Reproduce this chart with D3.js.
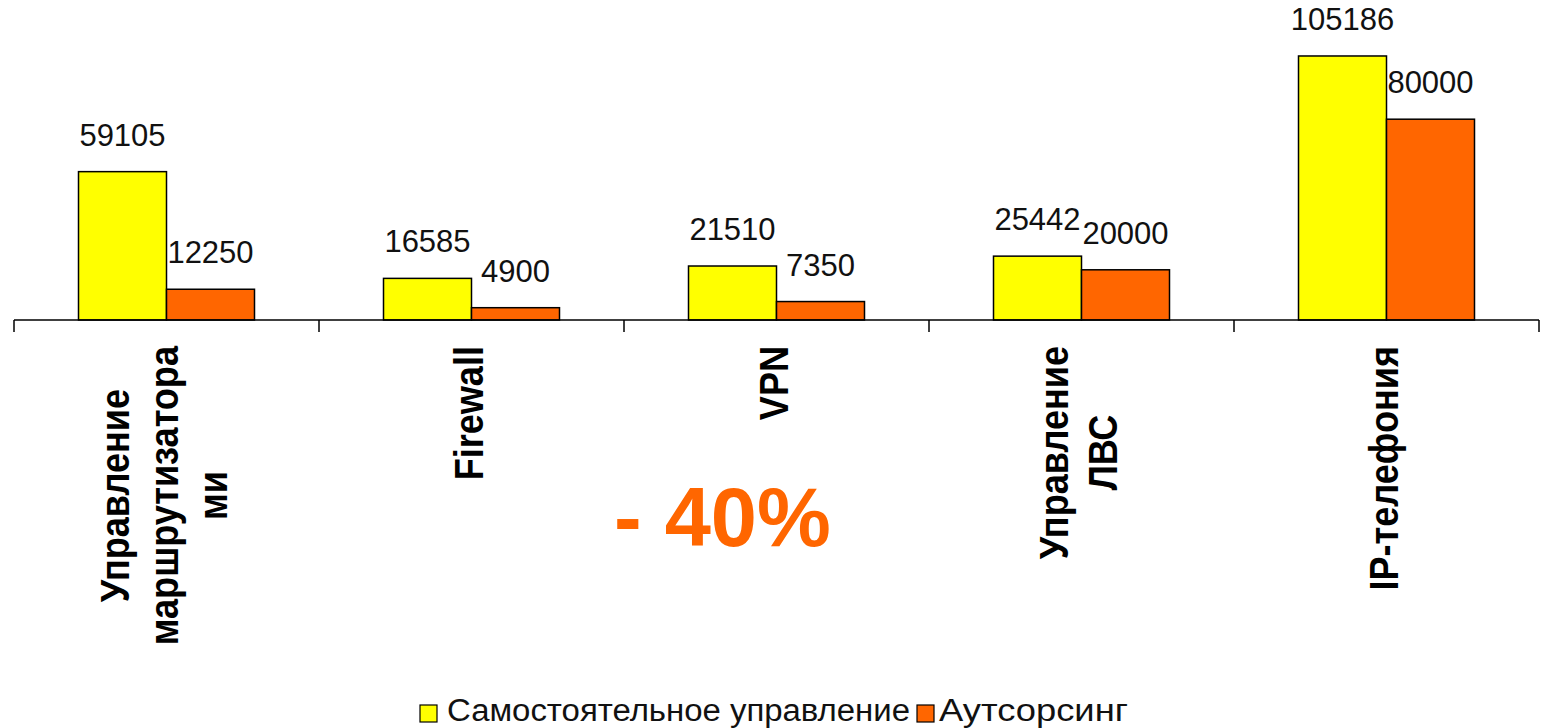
<!DOCTYPE html>
<html><head><meta charset="utf-8">
<script src="https://cdn.jsdelivr.net/npm/d3@7/dist/d3.min.js"></script>
<style>html,body{margin:0;padding:0;background:#fff;}svg{display:block;}</style>
</head><body>
<svg id="c" width="1548" height="728"></svg>
<script>
const categories = [["Управление","маршрутизатора","ми"],["Firewall"],["VPN"],["Управление","ЛВС"],["IP-телефония"]];
const seriesNames = ["Самостоятельное управление","Аутсорсинг"];
const selfValues = [59105,16585,21510,25442,105186];
const outsourceValues = [12250,4900,7350,20000,80000];
const colors = ["#FFFF00","#FF6600"];
const annotation = "- 40%";

const svg = d3.select("#c");
const font = "Arial, 'Liberation Sans', sans-serif";
const catKeys = categories.map((c,i)=>i);
const x0 = d3.scaleBand().domain(catKeys).range([14,1539]).padding(0);
const x1 = d3.scaleBand().domain([0,1]).range([64.5,240.5]).padding(0);
const y = d3.scaleLinear().domain([0,120000]).range([320,18.8]);

const data = catKeys.map(i=>[selfValues[i],outsourceValues[i]]);

const g = svg.append("g");
const groups = g.selectAll("g.cat").data(data).join("g")
  .attr("transform",(d,i)=>`translate(${x0(i)},0)`);
groups.selectAll("rect").data(d=>d.map((v,s)=>({v,s}))).join("rect")
  .attr("x",d=>x1(d.s)).attr("width",x1.bandwidth())
  .attr("y",d=>y(d.v)).attr("height",d=>y(0)-y(d.v))
  .attr("fill",d=>colors[d.s]).attr("stroke","#000").attr("stroke-width",1.5);
groups.selectAll("text.val").data(d=>d.map((v,s)=>({v,s}))).join("text")
  .attr("class","val")
  .attr("x",d=>x1(d.s)+x1.bandwidth()/2).attr("y",d=>y(d.v)-26)
  .attr("text-anchor","middle").attr("font-family",font).attr("font-size",31)
  .attr("fill","#111").text(d=>d.v);

// axis
const axisG = svg.append("g");
axisG.append("line").attr("x1",x0.range()[0]).attr("x2",x0.range()[1]).attr("y1",y(0)).attr("y2",y(0))
  .attr("stroke","#000").attr("stroke-width",1.5);
const bounds = catKeys.map(i=>x0(i)).concat([x0.range()[1]]);
axisG.selectAll("line.tick").data(bounds).join("line").attr("class","tick")
  .attr("x1",d=>d).attr("x2",d=>d).attr("y1",y(0)).attr("y2",y(0)+12)
  .attr("stroke","#000").attr("stroke-width",1.5);

// category labels (rotated)
const lineStep = 49, sx = 0.88, topY = 346;
categories.forEach((lines,i)=>{
  const cx = x0(i)+x0.bandwidth()/2;
  const lg = svg.append("g");
  const texts = lines.map((t,k)=>{
    return lg.append("text").attr("font-family",font).attr("font-size",41).attr("font-weight","bold")
      .attr("text-anchor","middle").attr("fill","#000").text(t);
  });
  const maxLen = d3.max(texts,t=>t.node().getComputedTextLength())*sx;
  const cy = topY + maxLen/2;
  texts.forEach((t,k)=>{
    const bx = cx + 11 + (k-(lines.length-1)/2)*lineStep;
    t.attr("transform",`translate(${bx},${cy}) rotate(-90) scale(${sx},1)`);
  });
});

// annotation
svg.append("text").attr("x",614).attr("y",546).attr("font-family",font).attr("font-weight","bold")
  .attr("font-size",83).attr("fill","#FF6600").text(annotation);

// legend
const leg = svg.append("g");
const legItems = [{x:420,tx:447,w:463},{x:917,tx:939,w:189}];
seriesNames.forEach((n,s)=>{
  leg.append("rect").attr("x",legItems[s].x).attr("y",705).attr("width",17).attr("height",17)
    .attr("fill",colors[s]).attr("stroke","#000").attr("stroke-width",1.2);
  leg.append("text").attr("x",legItems[s].tx).attr("y",721).attr("font-family",font)
    .attr("font-size",31).attr("fill","#111")
    .attr("textLength",legItems[s].w).attr("lengthAdjust","spacingAndGlyphs").text(n);
});
</script>
</body></html>
